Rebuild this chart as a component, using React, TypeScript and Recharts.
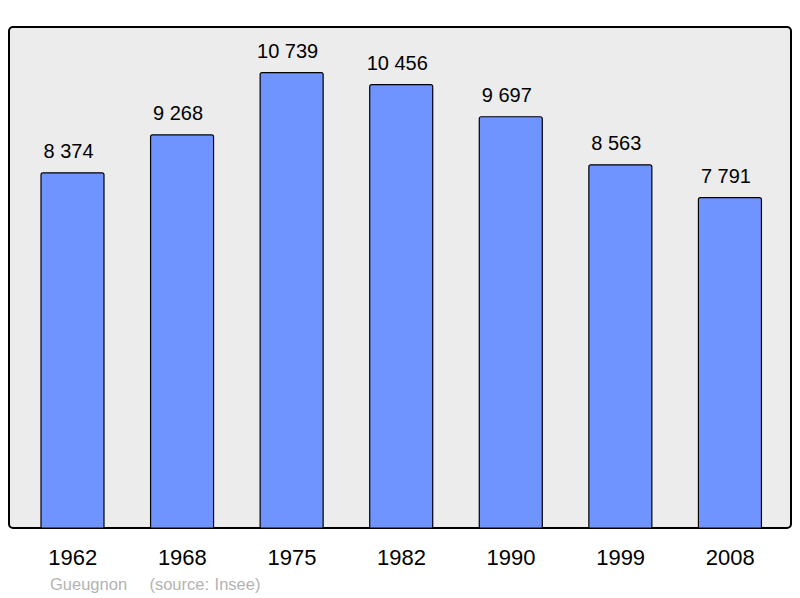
import React from 'react';
import { BarChart, Bar, XAxis, YAxis, LabelList } from 'recharts';

const years = ['1962', '1968', '1975', '1982', '1990', '1999', '2008'];
const population = [8374, 9268, 10739, 10456, 9697, 8563, 7791];

const chartData = years.map((year, i) => ({ year, population: population[i] }));

const FONT = '"Liberation Sans", Arial, sans-serif';

// thousands separated with a space, French style
const formatPop = (value: number) => String(value).replace(/\B(?=(\d{3})+(?!\d))/g, ' ');

// value above each bar, nudged a little to the left like the original
const ValueLabel = (props: any) => {
  const { x, y, width, value } = props;
  return (
    <text x={x + width / 2 - 4} y={y - 15} textAnchor="middle" fill="#000" fontSize={20} fontFamily={FONT}>
      {formatPop(Number(value))}
    </text>
  );
};

const App: React.FC = () => {
  const maxPop = Math.max(...population);

  return (
    <div style={{ position: 'absolute', left: 0, top: 0, width: 800, height: 598, fontFamily: FONT }}>
      {/* grey frame behind the bars */}
      <div
        style={{
          position: 'absolute',
          left: 8,
          top: 26,
          width: 780,
          height: 499,
          border: '2px solid #000',
          borderRadius: 5,
          background: '#ececec',
        }}
      />
      <div style={{ position: 'absolute', left: 0, top: 0 }}>
        <BarChart
          width={800}
          height={598}
          data={chartData}
          margin={{ top: 27, right: 15, bottom: 40, left: 18 }}
        >
          <XAxis
            dataKey="year"
            height={30}
            axisLine={false}
            tickLine={false}
            tickSize={0}
            tickMargin={21}
            tick={{ fill: '#000', fontSize: 22, fontFamily: FONT }}
            interval={0}
          />
          <YAxis hide domain={[0, maxPop * 1.1]} />
          <Bar
            dataKey="population"
            fill="#7094ff"
            stroke="#000"
            strokeWidth={1.2}
            barSize={63}
            radius={[2, 2, 0, 0]}
            isAnimationActive={false}
          >
            <LabelList dataKey="population" content={ValueLabel} />
          </Bar>
        </BarChart>
      </div>
      <div style={{ position: 'absolute', left: 50, top: 575, fontSize: 16.5, color: '#b3b3b3', whiteSpace: 'pre', wordSpacing: 1 }}>
        Gueugnon    (source: Insee)
      </div>
    </div>
  );
};

export default App;
